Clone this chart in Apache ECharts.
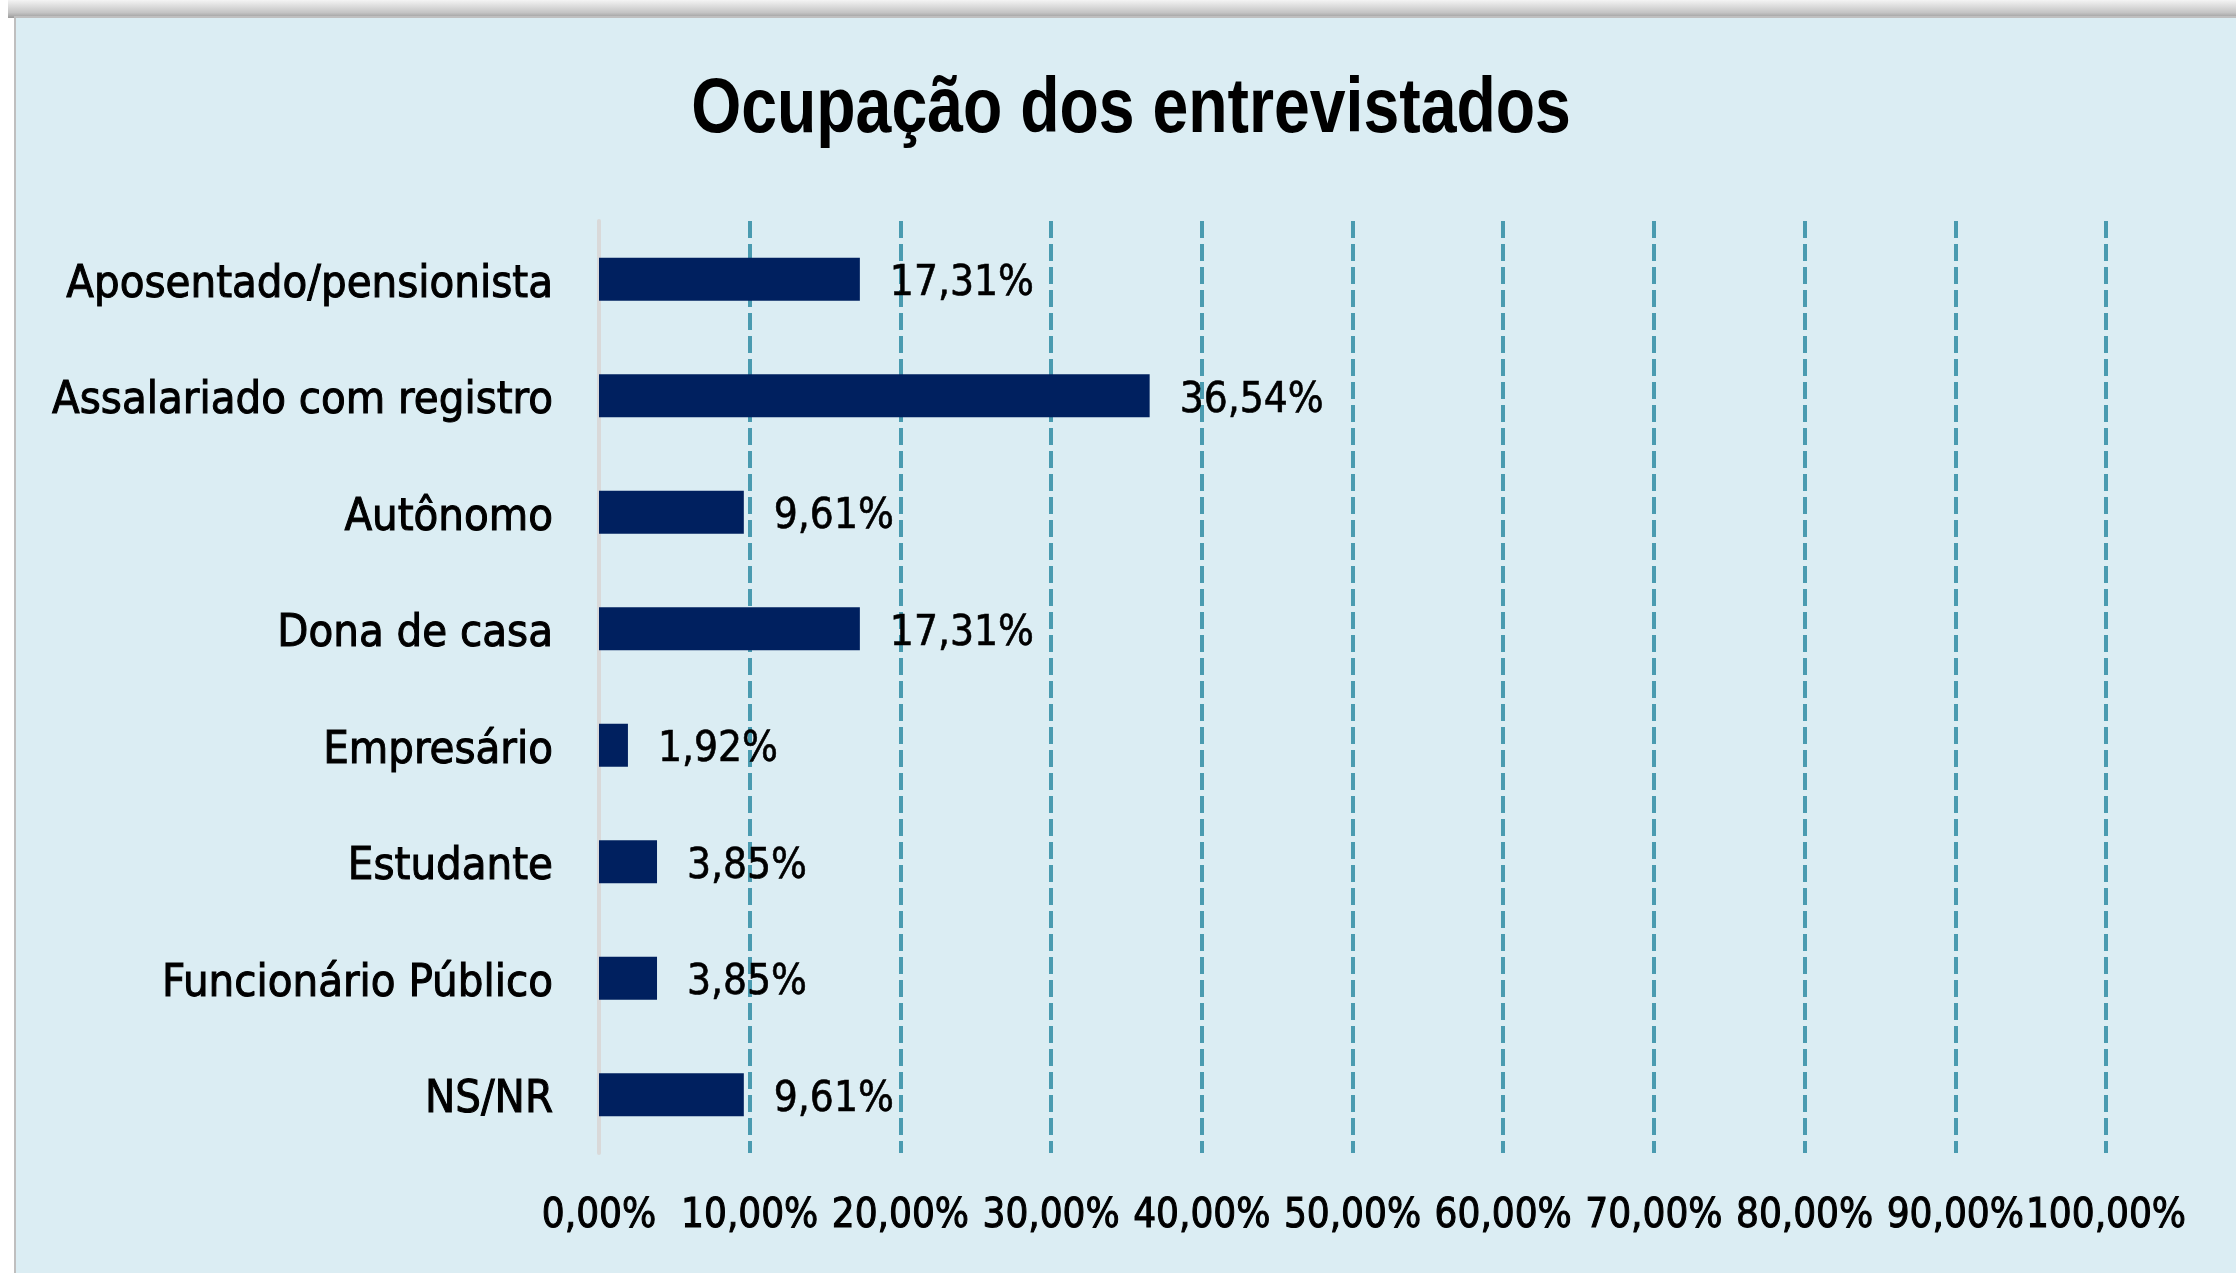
<!DOCTYPE html>
<html>
<head>
<meta charset="utf-8">
<script src="https://cdn.jsdelivr.net/npm/echarts@6.0.0/dist/echarts.min.js"></script>
<style>
  html, body { margin: 0; padding: 0; background: #fff; }
  #chart { width: 2236px; height: 1273px; }
</style>
</head>
<body>
<div id="chart"></div>
<script>
// dados do gráfico
let categorias = ['Aposentado/pensionista', 'Assalariado com registro', 'Autônomo', 'Dona de casa', 'Empresário', 'Estudante', 'Funcionário Público', 'NS/NR']
let percentuais = [17.31, 36.54, 9.61, 17.31, 1.92, 3.85, 3.85, 9.61]
let ticksEixo = [0, 10, 20, 30, 40, 50, 60, 70, 80, 90, 100]

let fonte = "'DejaVu Sans Condensed', 'Liberation Sans', sans-serif"

function formatPct(v) {
  return v.toFixed(2).replace('.', ',') + '%'
}

let chart = echarts.init(document.getElementById('chart'))

chart.setOption({
  backgroundColor: '#ffffff',
  animation: false,
  graphic: [
    // sombra do topo
    {
      type: 'rect',
      shape: { x: 8, y: 0, width: 2236, height: 18 },
      style: {
        fill: new echarts.graphic.LinearGradient(0, 0, 0, 1, [
          { offset: 0, color: '#f4f4f4' },
          { offset: 0.7, color: '#c4c4c4' },
          { offset: 1, color: '#9a9a9a' }
        ])
      },
      z: -10
    },
    // fundo do cartão
    {
      type: 'rect',
      shape: { x: 15, y: 17, width: 2240, height: 1270 },
      style: { fill: '#DBEDF3', stroke: '#BFBFBF', lineWidth: 2 },
      z: -9
    },
    // título (fonte estreita simulada com scaleX)
    {
      type: 'text',
      x: 1131,
      y: 110,
      scaleX: 0.825,
      style: {
        text: 'Ocupação dos entrevistados',
        fontFamily: "'Liberation Sans', Arial, sans-serif",
        fontSize: 78,
        fontWeight: 'bold',
        fill: '#000',
        align: 'center',
        verticalAlign: 'middle'
      }
    }
  ],
  grid: {
    left: 599,
    right: 2236 - 2106,
    top: 221,
    bottom: 1273 - 1153,
    containLabel: false,
    outerBoundsMode: 'none'
  },
  xAxis: {
    type: 'value',
    min: ticksEixo[0],
    max: ticksEixo[ticksEixo.length - 1],
    interval: 10,
    axisLine: { show: false },
    axisTick: { show: false },
    axisLabel: {
      margin: 44,
      fontFamily: fonte,
      fontSize: 40,
      color: '#000',
      textBorderColor: '#000',
      textBorderWidth: 1,
      showMinLabel: true,
      showMaxLabel: true,
      hideOverlap: false,
      formatter: function (v) { return formatPct(v) }
    },
    splitLine: {
      show: true,
      showMinLine: false,
      lineStyle: { color: '#4A9BB0', width: 4, type: [17, 6] }
    }
  },
  yAxis: {
    type: 'category',
    data: categorias,
    inverse: true,
    axisLine: { show: true, lineStyle: { color: '#D9D9D9', width: 4 } },
    axisTick: { show: false },
    axisLabel: {
      margin: 46,
      formatter: function (v) { return '{c|' + v + '}' },
      rich: {
        c: {
          padding: [12, 0, 0, 0],
          fontFamily: fonte,
          fontSize: 45,
          color: '#000',
          textBorderColor: '#000',
          textBorderWidth: 1
        }
      }
    }
  },
  series: [{
    type: 'bar',
    data: percentuais,
    barWidth: 43,
    itemStyle: { color: '#00205F' },
    label: {
      show: true,
      position: 'right',
      distance: 30,
      offset: [0, 5],
      fontFamily: fonte,
      fontSize: 42,
      color: '#000',
      textBorderColor: '#000',
      textBorderWidth: 0.6,
      formatter: function (p) { return formatPct(p.value) }
    }
  }]
})
</script>
</body>
</html>
